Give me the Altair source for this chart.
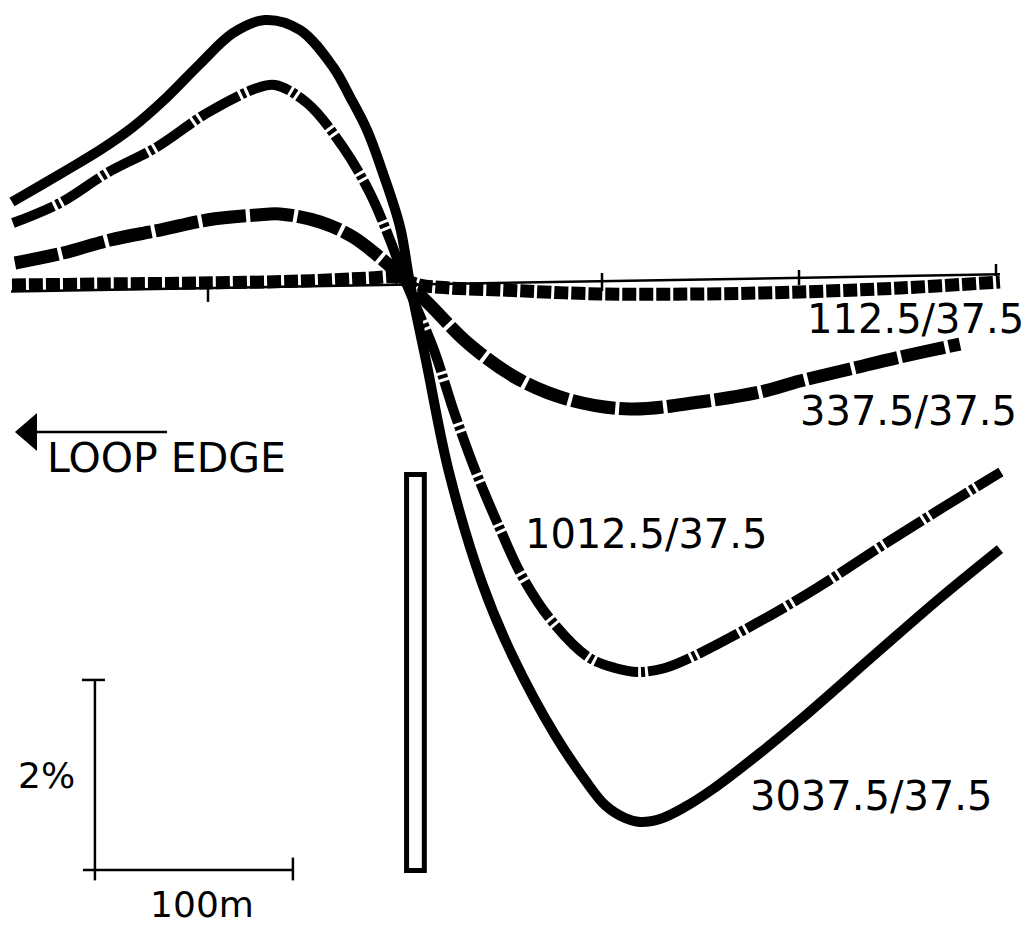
import altair as alt
import pandas as pd

# ---- curve data: distance (m) vs anomaly (%) ----
solid_x = [-199.5, -171.6, -154.8, -138.1, -120.8, -104.1, -87.3, -71.1, -53.3, -36.5, -27.9, -19.3, -11.2,
           -2.5, 2.5, 10.7, 22.3, 39.1, 54.8, 76.1, 91.4, 101.5, 111.7, 119.3, 129.4, 142.1, 156.3, 180.2,
           200.5, 241.1, 271.6, 302.0]
solid_y = [0.821, 1.158, 1.368, 1.611, 1.926, 2.274, 2.6, 2.737, 2.632, 2.242, 1.926, 1.579, 1.126,
           0.558, -0.032, -0.853, -2.021, -3.189, -3.968, -4.789, -5.263, -5.526, -5.663, -5.705, -5.674,
           -5.547, -5.358, -4.979, -4.632, -3.895, -3.347, -2.832]

dashdot_x = [-199.0, -175.1, -151.3, -125.9, -100.5, -75.1, -66.0, -49.7, -31.5, -17.8, -7.6, 0.0,
             14.7, 24.4, 36.0, 48.7, 59.4, 74.1, 92.9, 106.6, 118.3, 132.0, 145.7, 177.7, 209.1, 241.1,
             272.6, 302.5]
dashdot_y = [0.6, 0.811, 1.126, 1.4, 1.758, 2.021, 2.053, 1.863, 1.4, 0.916, 0.421, 0.0,
             -0.737, -1.358, -2.021, -2.642, -3.116, -3.579, -3.968, -4.084, -4.126, -4.084, -3.968, -3.621,
             -3.242, -2.811, -2.4, -2.021]

dashed_x = [-198.0, -173.6, -149.7, -124.4, -100.5, -75.1, -63.5, -43.1, -26.4, -11.2, 0.0,
            12.7, 33.0, 58.4, 83.8, 114.2, 149.7, 180.2, 200.5, 225.9, 251.3, 281.7]
dashed_y = [0.179, 0.284, 0.421, 0.526, 0.632, 0.684, 0.695, 0.611, 0.453, 0.211, 0.0,
            -0.263, -0.684, -1.053, -1.263, -1.358, -1.284, -1.179, -1.063, -0.937, -0.811, -0.674]

dotted_x = [-199.5, -154.8, -104.1, -53.3, -17.8, -5.1, 0.0, 7.6, 22.8, 48.2, 99.0, 149.7, 200.5, 251.3, 302.0]
dotted_y = [-0.053, -0.042, -0.032, -0.011, 0.021, 0.032, 0.0, -0.053, -0.084, -0.105, -0.147, -0.147,
            -0.126, -0.084, -0.021]

# ---- labels ----
label_text = ["112.5/37.5", "337.5/37.5", "1012.5/37.5", "3037.5/37.5", "LOOP EDGE", "2%", "100m"]
label_x = [204.1, 200.5, 60.9, 175.1, -181.7, -196.4, -129.4]
label_y = [-0.558, -1.526, -2.821, -5.579, -2.021, -5.347, -6.705]
label_size = [40, 40, 40, 40, 41, 36, 36]

# ---- profile baseline, ticks (every 100 m), scale bar (100 m x 2 %), arrow shaft ----
rule_x1 = [-200.0, -100.0, 100.0, 200.0, 300.0, -157.4, -164.0, -163.5, -56.9, -186.8]
rule_x2 = [302.0, -100.0, 100.0, 200.0, 300.0, -157.4, -152.3, -56.9, -56.9, -120.8]
rule_y1 = [-0.12, -0.08, 0.074, 0.105, 0.168, -4.21, -4.21, -6.21, -6.08, -1.6]
rule_y2 = [0.06, -0.23, -0.116, -0.053, 0.042, -6.32, -4.21, -6.21, -6.32, -1.6]

arrow_x = [-192.4]
arrow_y = [-1.6]

# conductor (thin plate) outline
plate_x1 = [0.8]
plate_x2 = [9.8]
plate_y1 = [-2.047]
plate_y2 = [-6.216]

X = alt.Scale(domain=[-201.523, 315.228], nice=False, zero=False)
Y = alt.Scale(domain=[-6.779, 2.8632], nice=False, zero=False)


def curve(xs, ys, width, dash=None):
    df = pd.DataFrame({"x": xs, "y": ys})
    kw = dict(color="black", strokeWidth=width, interpolate="catmull-rom", strokeCap="butt")
    if dash:
        kw["strokeDash"] = dash
    return alt.Chart(df).mark_line(**kw).encode(
        x=alt.X("x:Q", scale=X, axis=None),
        y=alt.Y("y:Q", scale=Y, axis=None),
        order="x:Q",
    )


rules_df = pd.DataFrame({"x1": rule_x1, "x2": rule_x2, "y1": rule_y1, "y2": rule_y2})
rules = alt.Chart(rules_df).mark_rule(color="black", strokeWidth=2.5).encode(
    x=alt.X("x1:Q", scale=X, axis=None), x2="x2:Q",
    y=alt.Y("y1:Q", scale=Y, axis=None), y2="y2:Q",
)

arrow = alt.Chart(pd.DataFrame({"x": arrow_x, "y": arrow_y})).mark_point(
    shape="M 0.58 -1 L -0.58 0 L 0.58 1 Z", size=1444, filled=True, color="black", opacity=1
).encode(x=alt.X("x:Q", scale=X, axis=None), y=alt.Y("y:Q", scale=Y, axis=None))

plate = alt.Chart(pd.DataFrame({"x1": plate_x1, "x2": plate_x2, "y1": plate_y1, "y2": plate_y2})).mark_rect(
    fill="white", stroke="black", strokeWidth=5
).encode(
    x=alt.X("x1:Q", scale=X, axis=None), x2="x2:Q",
    y=alt.Y("y1:Q", scale=Y, axis=None), y2="y2:Q",
)

labels_df = pd.DataFrame({"t": label_text, "x": label_x, "y": label_y, "s": label_size})
labels = alt.Chart(labels_df).mark_text(
    align="left", baseline="alphabetic", font="DejaVu Sans", color="black"
).encode(
    x=alt.X("x:Q", scale=X, axis=None),
    y=alt.Y("y:Q", scale=Y, axis=None),
    text="t:N",
    size=alt.Size("s:Q", scale=None, legend=None),
)

chart = alt.layer(
    rules,
    curve(dotted_x, dotted_y, 13, [14, 3]),
    curve(dashed_x, dashed_y, 13, [44, 4]),
    curve(dashdot_x, dashdot_y, 10, [44, 3, 4, 3]),
    curve(solid_x, solid_y, 10),
    plate,
    arrow,
    labels,
).properties(
    width=1018, height=916, autosize=alt.AutoSizeParams(type="none"), padding=0, background="white"
).configure_view(stroke=None)

chart.save("out.html", embed_options={"renderer": "svg", "actions": False})
